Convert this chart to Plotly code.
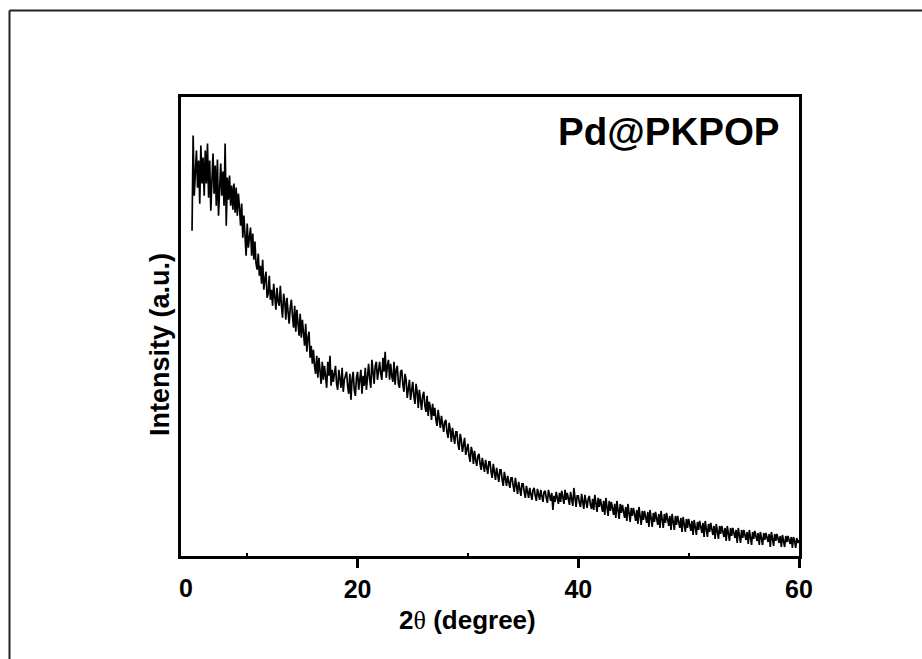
import numpy as np
import plotly.graph_objects as go

# ---- data ----
two_theta_start = 5.0   # degrees
two_theta_step = 0.1    # degrees
intensity = [
    325, 420, 360, 382, 405, 368, 395, 352, 410, 372,   # 5
    398, 360, 405, 372, 412, 358, 395, 345, 380, 402,   # 6
    362, 390, 350, 396, 340, 370, 392, 360, 384, 350,   # 7
    412, 330, 378, 356, 380, 350, 370, 346, 372, 343,   # 8
    368, 340, 362, 348, 330, 352, 318, 340, 310, 300,   # 9
    332, 308, 318, 328, 300, 322, 296, 314, 292, 286,   # 10
    302, 280, 290, 272, 296, 266, 276, 284, 258, 262,   # 11
    280, 256, 266, 250, 272, 262, 246, 268, 254, 250,   # 12
    270, 250, 238, 262, 254, 236, 258, 244, 232, 248,   # 13
    256, 240, 228, 250, 224, 246, 236, 220, 242, 218,   # 14
    236, 222, 210, 232, 204, 218, 224, 198, 210, 192,   # 15
    206, 190, 182, 200, 178, 198, 186, 172, 194, 176,   # 16
    190, 176, 168, 194, 180, 200, 170, 186, 174, 182,   # 17
    190, 172, 166, 186, 178, 168, 188, 164, 176, 182,   # 18
    184, 170, 162, 182, 156, 176, 184, 166, 160, 178,   # 19
    184, 166, 176, 186, 162, 180, 170, 188, 166, 184,   # 20
    192, 176, 168, 196, 180, 172, 190, 194, 176, 186,   # 21
    194, 182, 176, 198, 184, 204, 178, 190, 196, 176,   # 22
    192, 180, 174, 194, 171, 186, 190, 172, 168, 184,   # 23
    186, 172, 164, 182, 176, 158, 170, 176, 156, 168,   # 24
    174, 160, 152, 172, 164, 148, 166, 156, 146, 160,   # 25
    164, 150, 144, 160, 140, 154, 148, 136, 152, 140,   # 26
    148, 136, 130, 146, 138, 128, 140, 132, 124, 134,   # 27
    136, 124, 118, 133, 126, 114, 128, 120, 112, 124,   # 28
    124, 112, 106, 122, 116, 104, 114, 118, 101, 108,   # 29
    112, 100, 94, 109, 104, 92, 105, 96, 90, 100,       # 30
    102, 92, 86, 98, 90, 84, 96, 88, 82, 94,            # 31
    94, 84, 78, 92, 82, 76, 88, 80, 74, 86,             # 32
    86, 76, 70, 84, 78, 70, 80, 74, 68, 78,             # 33
    78, 70, 64, 78, 68, 62, 74, 66, 60, 72,             # 34
    72, 64, 58, 70, 62, 58, 68, 60, 56, 66,             # 35
    68, 60, 55, 67, 62, 56, 66, 58, 54, 64,             # 36
    65, 58, 53, 66, 60, 55, 63, 46, 60, 54,             # 37
    64, 57, 52, 63, 54, 65, 58, 52, 66, 56,             # 38
    63, 55, 51, 64, 58, 50, 68, 54, 49, 60,             # 39
    60, 53, 49, 62, 55, 47, 61, 52, 48, 57,             # 40
    60, 51, 47, 57, 46, 61, 53, 44, 58, 49,             # 41
    57, 48, 44, 55, 41, 58, 50, 40, 55, 45,             # 42
    54, 45, 41, 52, 38, 55, 46, 37, 52, 43,             # 43
    51, 42, 38, 49, 35, 52, 43, 34, 48, 40,             # 44
    48, 39, 35, 46, 32, 49, 40, 31, 45, 36,             # 45
    45, 37, 33, 44, 29, 46, 38, 29, 43, 34,             # 46
    44, 35, 31, 42, 28, 45, 37, 28, 42, 33,             # 47
    43, 34, 30, 40, 26, 42, 35, 26, 40, 31,             # 48
    40, 32, 28, 38, 24, 39, 33, 24, 37, 28,             # 49
    37, 29, 25, 35, 21, 36, 30, 21, 34, 26,             # 50
    35, 27, 23, 33, 19, 35, 28, 19, 32, 24,             # 51
    33, 25, 21, 30, 17, 32, 25, 17, 30, 22,             # 52
    30, 23, 19, 28, 15, 30, 23, 15, 28, 20,             # 53
    28, 21, 18, 26, 13, 28, 21, 13, 26, 18,             # 54
    26, 19, 16, 24, 12, 26, 19, 11, 24, 17,             # 55
    25, 18, 15, 23, 11, 24, 18, 11, 23, 16,             # 56
    23, 17, 14, 22, 9, 24, 17, 10, 22, 15,              # 57
    22, 16, 13, 20, 9, 21, 16, 9, 20, 14,               # 58
    20, 15, 12, 19, 8, 19, 15, 8, 18, 13,               # 59
    16,                                                 # 60
]
two_theta = np.round(two_theta_start + two_theta_step * np.arange(len(intensity)), 2)

x_range = [4, 60]
y_range = [0, 458.5]
x_tick_vals = [20, 40, 60]
x_tick_text = ["20", "40", "60"]
x_minor_vals = [10, 30, 50]
x_zero_val = 4.45
x_zero_text = "0"
x_title = "2<span style='font-family:Liberation Serif;font-weight:normal'>θ</span> (degree)"
y_title = "Intensity (a.u.)"
sample_label = "Pd@PKPOP"

# ---- layout geometry ----
W, H = 922, 659
ML, MR, MT, MB = 181, 123, 97, 103
PW, PH = W - ML - MR, H - MT - MB


def px_x(px):
    return (px - ML) / PW


def px_y(py):
    return (H - MB - py) / PH


FONT = "Liberation Sans, Arial, sans-serif"

fig = go.Figure()
fig.add_trace(go.Scatter(
    x=two_theta, y=intensity, mode="lines",
    line=dict(color="black", width=1.7),
    showlegend=False, hoverinfo="skip",
))

axis_common = dict(
    showline=True, linecolor="black", linewidth=3, mirror=True,
    showgrid=False, zeroline=False,
)

fig.update_xaxes(
    range=x_range, tickmode="array", tickvals=x_tick_vals, ticktext=x_tick_text,
    ticks="outside", ticklen=9, tickwidth=3, tickcolor="black",
    tickfont=dict(family=FONT, size=25, color="black", weight="bold"),
    minor=dict(tickmode="array", tickvals=x_minor_vals, ticks="inside",
               ticklen=3, tickwidth=1.5, tickcolor="black"),
    **axis_common,
)
fig.update_yaxes(range=y_range, showticklabels=False, ticks="", **axis_common)

annotations = [
    dict(x=x_zero_val, xref="x", y=px_y(588), yref="paper", text=x_zero_text,
         showarrow=False, xanchor="center", yanchor="middle",
         font=dict(family=FONT, size=25, color="black", weight="bold")),
    dict(x=px_x(467), xref="paper", y=px_y(620), yref="paper", text=x_title,
         showarrow=False, xanchor="center", yanchor="middle",
         font=dict(family=FONT, size=26, color="black", weight="bold")),
    dict(x=px_x(160), xref="paper", y=px_y(345), yref="paper", text=y_title,
         textangle=-90, showarrow=False, xanchor="center", yanchor="middle",
         font=dict(family=FONT, size=27, color="black", weight="bold")),
    dict(x=px_x(782), xref="paper", y=px_y(131), yref="paper", text=sample_label,
         showarrow=False, xanchor="right", yanchor="middle",
         font=dict(family=FONT, size=38.5, color="black", weight="bold")),
]

shapes = [
    dict(type="line", xref="paper", yref="paper",
         x0=px_x(9.5), x1=px_x(9.5), y0=px_y(10.5), y1=px_y(H + 5),
         line=dict(color="#222", width=2)),
    dict(type="line", xref="paper", yref="paper",
         x0=px_x(9.5), x1=px_x(W + 5), y0=px_y(10.5), y1=px_y(10.5),
         line=dict(color="#222", width=2)),
]

fig.update_layout(
    width=W, height=H,
    margin=dict(l=ML, r=MR, t=MT, b=MB),
    paper_bgcolor="white", plot_bgcolor="white",
    annotations=annotations, shapes=shapes,
)

fig.write_html("out.html")
